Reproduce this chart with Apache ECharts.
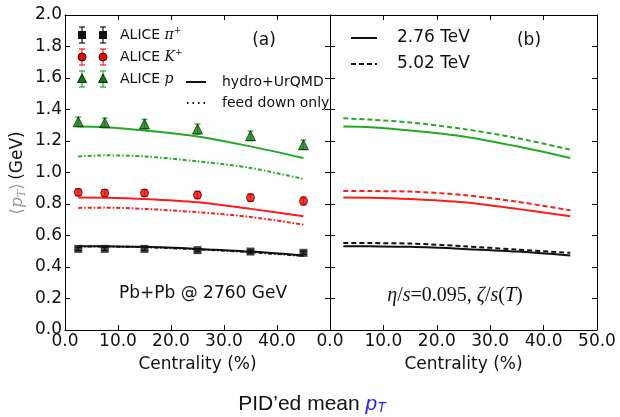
<!DOCTYPE html>
<html><head><meta charset="utf-8">
<script src="https://cdn.jsdelivr.net/npm/echarts@6/dist/echarts.min.js"></script>
<style>html,body{margin:0;padding:0;background:#fff}#c{width:620px;height:417px}</style>
</head><body><div id="c"></div>
<script>
// ---- data ----
const cent = [2.5, 7.5, 15, 25, 35, 45];
const xTicks = [0, 10, 20, 30, 40, 50];
const aliceP = [1.322, 1.316, 1.308, 1.276, 1.233, 1.176];
const aliceK = [0.874, 0.870, 0.870, 0.857, 0.840, 0.819];
const alicePi = [0.515, 0.515, 0.515, 0.507, 0.498, 0.490];
const errP = [0.030, 0.030, 0.030, 0.032, 0.030, 0.030];
const errK = [0.022, 0.022, 0.022, 0.024, 0.024, 0.026];
const errPi = [0.010, 0.010, 0.010, 0.010, 0.010, 0.010];
const hydroP276 = [1.292, 1.288, 1.267, 1.229, 1.166, 1.092];
const hydroK276 = [0.841, 0.840, 0.832, 0.811, 0.769, 0.722];
const hydroPi276 = [0.532, 0.531, 0.528, 0.515, 0.498, 0.473];
const feedP = [1.102, 1.109, 1.102, 1.071, 1.029, 0.959];
const feedK = [0.775, 0.777, 0.769, 0.748, 0.718, 0.669];
const feedPi = [0.530, 0.530, 0.526, 0.512, 0.494, 0.470];
const hydroP502 = [1.344, 1.336, 1.318, 1.276, 1.219, 1.145];
const hydroK502 = [0.883, 0.882, 0.879, 0.857, 0.815, 0.760];
const hydroPi502 = [0.553, 0.552, 0.549, 0.532, 0.511, 0.490];

const GREEN = '#22aa22', RED = '#ff1a1a', BLACK = '#111111', DKGREEN = '#0a7d0a';
const pair = v => cent.map((c, i) => [c, v[i]]);
const trip = (v, e) => cent.map((c, i) => [c, v[i], e[i]]);

function errSeries(v, e, color) {
  return {
    type: 'custom', xAxisIndex: 0, yAxisIndex: 0, z: 5,
    data: trip(v, e),
    renderItem: (params, api) => {
      const x = api.value(0), y = api.value(1), er = api.value(2);
      const t = api.coord([x, y + er]), b = api.coord([x, y - er]);
      const hw = 3;
      const st = { stroke: color, lineWidth: 1.2 };
      return { type: 'group', children: [
        { type: 'line', shape: { x1: t[0], y1: t[1], x2: b[0], y2: b[1] }, style: st },
        { type: 'line', shape: { x1: t[0] - hw, y1: t[1], x2: t[0] + hw, y2: t[1] }, style: st },
        { type: 'line', shape: { x1: b[0] - hw, y1: b[1], x2: b[0] + hw, y2: b[1] }, style: st }
      ]};
    }
  };
}
function lineS(v, color, type, gi) {
  return { type: 'line', xAxisIndex: gi, yAxisIndex: gi, data: pair(v), showSymbol: false, smooth: 0.3,
    lineStyle: { color: color, width: 2, type: type }, z: 3, silent: true };
}

const axFont = 'DejaVu Sans';
function xAx(gi, pos, labels) {
  return {
    type: 'value', gridIndex: gi, position: pos, min: 0, max: 50, interval: 10,
    axisLine: { show: true, onZero: false, lineStyle: { color: '#000', width: 1 } },
    axisTick: { show: true, inside: true, length: 5, lineStyle: { color: '#000' } },
    axisLabel: labels ? { show: true, fontSize: 17, fontFamily: axFont, color: '#111', margin: 3,
      formatter: v => (gi === 0 && v === 50) ? '' : v.toFixed(1) } : { show: false },
    splitLine: { show: false },
    name: labels ? 'Centrality (%)' : '', nameLocation: 'middle', nameGap: 26,
    nameTextStyle: { fontSize: 17, fontFamily: axFont, color: '#111' }
  };
}
function yAx(gi, pos, labels) {
  return {
    type: 'value', gridIndex: gi, position: pos, min: 0, max: 2, interval: 0.2,
    axisLine: { show: true, onZero: false, lineStyle: { color: '#000', width: 1 } },
    axisTick: { show: true, inside: true, length: 5, lineStyle: { color: '#000' } },
    axisLabel: labels ? { show: true, fontSize: 17, fontFamily: axFont, color: '#111', margin: 3,
      formatter: v => v.toFixed(1) } : { show: false },
    splitLine: { show: false }
  };
}

// legend graphics helpers
const lg = [];
function errIcon(x, y, color) {
  lg.push({ type: 'line', shape: { x1: x, y1: y - 8, x2: x, y2: y + 8 }, style: { stroke: color, lineWidth: 1.2 } });
  lg.push({ type: 'line', shape: { x1: x - 3, y1: y - 8, x2: x + 3, y2: y - 8 }, style: { stroke: color, lineWidth: 1.2 } });
  lg.push({ type: 'line', shape: { x1: x - 3, y1: y + 8, x2: x + 3, y2: y + 8 }, style: { stroke: color, lineWidth: 1.2 } });
}
[[82, 35, BLACK, 'sq'], [103, 35, BLACK, 'sq'], [82, 57, RED, 'ci'], [103, 57, RED, 'ci'], [82, 79, GREEN, 'tr'], [103, 79, GREEN, 'tr']].forEach(([x, y, c, s]) => {
  errIcon(x, y, c);
  if (s === 'sq') lg.push({ type: 'rect', shape: { x: x - 4, y: y - 4, width: 8, height: 8 }, style: { fill: BLACK } });
  if (s === 'ci') lg.push({ type: 'circle', shape: { cx: x, cy: y, r: 4 }, style: { fill: '#ff0000', stroke: '#000', lineWidth: 0.8 } });
  if (s === 'tr') lg.push({ type: 'polygon', shape: { points: [[x, y - 5], [x + 4.5, y + 3.5], [x - 4.5, y + 3.5]] }, style: { fill: DKGREEN, stroke: '#000', lineWidth: 0.8 } });
});
const rich = {
  m: { fontFamily: 'DejaVu Serif', fontStyle: 'italic', fontSize: 14, fill: '#111' },
  sup: { fontFamily: 'DejaVu Serif', fontSize: 9, fill: '#111', padding: [0, 0, 9, 0] },
  t: { fontFamily: axFont, fontSize: 14, fill: '#111' }
};
function txt(x, y, text, size, align, extra) {
  return Object.assign({ type: 'text', x: x, y: y, style: { text: text, font: size + 'px "DejaVu Sans"', fill: '#111', textAlign: align || 'left', align: align || 'left', textVerticalAlign: 'middle', verticalAlign: 'middle' } }, extra || {});
}
lg.push({ type: 'text', x: 120, y: 35, style: { text: '{t|ALICE }{m|π}{sup|+}', rich: rich, verticalAlign: 'middle', textVerticalAlign: 'middle' } });
lg.push({ type: 'text', x: 120, y: 57, style: { text: '{t|ALICE }{m|K}{sup|+}', rich: rich, verticalAlign: 'middle', textVerticalAlign: 'middle' } });
lg.push({ type: 'text', x: 120, y: 79, style: { text: '{t|ALICE }{m|p}', rich: rich, verticalAlign: 'middle', textVerticalAlign: 'middle' } });
lg.push({ type: 'line', shape: { x1: 186, y1: 82, x2: 206, y2: 82 }, style: { stroke: BLACK, lineWidth: 2 } });
lg.push(txt(222, 82, 'hydro+UrQMD', 14));
lg.push({ type: 'line', shape: { x1: 187, y1: 103, x2: 206, y2: 103 }, style: { stroke: BLACK, lineWidth: 2, lineDash: [1.5, 4] } });
lg.push(txt(222, 103, 'feed down only', 14));
lg.push(txt(264, 41, '(a)', 17, 'center'));
lg.push(txt(529, 41, '(b)', 17, 'center'));
lg.push({ type: 'line', shape: { x1: 351, y1: 38, x2: 377, y2: 38 }, style: { stroke: BLACK, lineWidth: 2 } });
lg.push(txt(397, 38, '2.76 TeV', 17));
lg.push({ type: 'line', shape: { x1: 351, y1: 64, x2: 377, y2: 64 }, style: { stroke: BLACK, lineWidth: 2, lineDash: [5, 3] } });
lg.push(txt(397, 64, '5.02 TeV', 17));
lg.push(txt(203, 294, 'Pb+Pb @ 2760 GeV', 17, 'center'));
lg.push({ type: 'text', x: 455, y: 296, style: { text: '{i|η}{n|/}{i|s}{n|=0.095, }{i|ζ}{n|/}{i|s}{n|(}{i|T}{n|)}', align: 'center', textAlign: 'center', verticalAlign: 'middle', textVerticalAlign: 'middle',
  rich: { i: { fontFamily: 'Liberation Serif', fontStyle: 'italic', fontSize: 20, fill: '#111' }, n: { fontFamily: 'Liberation Serif', fontSize: 20, fill: '#111' } } } });
// y-axis title
lg.push({ type: 'text', x: 18, y: 173, rotation: Math.PI / 2, style: { text: '{g|⟨}{gi|p}{gs|T}{g|⟩} {b|(GeV)}', align: 'center', textAlign: 'center', verticalAlign: 'middle', textVerticalAlign: 'middle',
  rich: { g: { fontFamily: 'DejaVu Serif', fontSize: 17, fill: '#999' }, gi: { fontFamily: 'DejaVu Serif', fontStyle: 'italic', fontSize: 17, fill: '#999' },
          gs: { fontFamily: 'DejaVu Serif', fontStyle: 'italic', fontSize: 11, fill: '#999', padding: [8, 0, 0, 0] }, b: { fontFamily: axFont, fontSize: 17, fill: '#111' } } } });
// bottom caption
lg.push({ type: 'text', x: 312, y: 404, style: { text: '{a|PID’ed mean }{p|p}{s|T}', align: 'center', textAlign: 'center', verticalAlign: 'middle', textVerticalAlign: 'middle',
  rich: { a: { fontFamily: 'Liberation Sans', fontSize: 21, fill: '#111' }, p: { fontFamily: 'Liberation Sans', fontStyle: 'italic', fontSize: 21, fill: '#1f1fff' },
          s: { fontFamily: 'Liberation Sans', fontStyle: 'italic', fontSize: 14, fill: '#1f1fff', padding: [9, 0, 0, 0] } } } });

const option = {
  animation: false,
  backgroundColor: '#fff',
  grid: [
    { left: 65, top: 15, width: 265, height: 315, show: false },
    { left: 330, top: 15, width: 267, height: 315, show: false }
  ],
  xAxis: [xAx(0, 'bottom', true), xAx(1, 'bottom', true), xAx(0, 'top', false), xAx(1, 'top', false)],
  yAxis: [yAx(0, 'left', true), yAx(1, 'left', false), yAx(0, 'right', false), yAx(1, 'right', false)],
  series: [
    lineS(hydroP276, GREEN, 'solid', 0), lineS(hydroK276, RED, 'solid', 0), lineS(hydroPi276, BLACK, 'solid', 0),
    lineS(feedP, GREEN, [4, 2, 1.5, 2], 0), lineS(feedK, RED, [4, 2, 1.5, 2], 0), lineS(feedPi, BLACK, [4, 2, 1.5, 2], 0),
    lineS(hydroP276, GREEN, 'solid', 1), lineS(hydroK276, RED, 'solid', 1), lineS(hydroPi276, BLACK, 'solid', 1),
    lineS(hydroP502, GREEN, [5, 3], 1), lineS(hydroK502, RED, [5, 3], 1), lineS(hydroPi502, BLACK, [5, 3], 1),
    errSeries(aliceP, errP, GREEN), errSeries(aliceK, errK, RED), errSeries(alicePi, errPi, BLACK),
    { type: 'scatter', xAxisIndex: 0, yAxisIndex: 0, data: pair(aliceP), symbol: 'triangle', symbolSize: 10, z: 6,
      itemStyle: { color: DKGREEN, borderColor: '#000', borderWidth: 0.8 } },
    { type: 'scatter', xAxisIndex: 0, yAxisIndex: 0, data: pair(aliceK), symbol: 'circle', symbolSize: 8, z: 6,
      itemStyle: { color: '#ff0000', borderColor: '#000', borderWidth: 0.8 } },
    { type: 'scatter', xAxisIndex: 0, yAxisIndex: 0, data: pair(alicePi), symbol: 'rect', symbolSize: 8, z: 6,
      itemStyle: { color: BLACK } }
  ],
  graphic: { elements: lg }
};
const chart = echarts.init(document.getElementById('c'), null, { renderer: 'canvas' });
chart.setOption(option);
</script></body></html>
